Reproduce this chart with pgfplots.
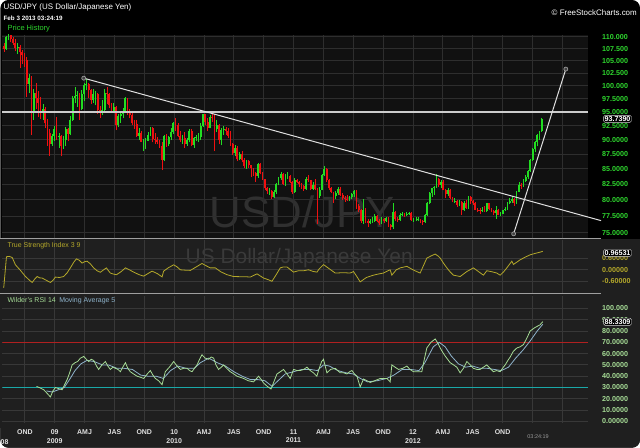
\documentclass[border=0pt]{standalone}
\usepackage{pgfplots}
\pgfplotsset{compat=1.18}
\usepackage{pgfplotstable}
\usepackage{fontspec}
\setmainfont{Liberation Sans}
\definecolor{cgreen}{HTML}{22DD22}
\definecolor{cred}{HTML}{EE1111}
\definecolor{pgreen}{HTML}{2ED62E}
\definecolor{tsicol}{HTML}{B4A82A}
\definecolor{rsicol}{HTML}{A6DC96}
\definecolor{macol}{HTML}{8FB4CC}
\definecolor{gridc}{HTML}{2E2E2E}
\definecolor{gridl}{HTML}{383838}
\definecolor{pbg}{HTML}{111111}
\definecolor{lbg}{HTML}{1F1F1F}
\definecolor{wm}{HTML}{303030}
\definecolor{wm2}{HTML}{3A3A3A}
\definecolor{rline}{HTML}{B02020}
\definecolor{tline}{HTML}{1AA8A8}

\pgfplotstableread{
o c h l
108.0 107.5 108.7 106.9
107.5 109.9 110.1 107.3
109.9 110.4 110.7 109.3
110.4 109.6 110.5 108.9
109.6 108.8 110.0 108.3
108.8 107.6 109.5 107.0
107.6 107.8 108.6 106.4
107.8 106.8 108.2 103.5
106.8 106.1 107.3 104.4
106.1 105.2 106.5 103.8
105.2 100.4 105.8 97.9
100.4 101.6 102.3 98.6
101.6 94.8 101.9 90.9
94.8 98.5 99.3 93.5
98.5 97.6 100.5 95.5
97.6 96.7 99.0 94.1
96.7 95.2 97.8 93.7
95.2 95.5 96.5 93.6
95.5 92.9 95.9 92.1
92.9 91.2 93.7 88.9
91.2 89.2 91.8 87.2
89.2 90.6 91.0 88.9
90.6 91.9 92.5 89.8
91.9 90.5 94.0 89.9
90.5 90.7 91.2 88.5
90.7 88.8 90.9 87.1
88.8 89.9 90.6 88.4
89.9 91.9 92.3 88.9
91.9 91.0 92.0 89.7
91.0 93.5 94.2 90.8
93.5 97.6 98.0 93.3
97.6 98.0 99.7 96.7
98.0 98.1 99.0 96.0
98.1 95.6 98.5 93.5
95.6 98.4 99.2 95.4
98.4 100.2 100.6 97.0
100.2 100.4 101.4 99.1
100.4 99.1 100.5 97.7
99.1 97.3 99.4 96.5
97.3 98.4 99.3 96.7
98.4 98.4 99.0 96.2
98.4 95.3 98.6 94.6
95.3 94.8 96.1 93.9
94.8 95.3 97.3 94.5
95.3 98.6 99.3 95.1
98.6 98.4 99.7 96.5
98.4 96.2 98.6 95.7
96.2 95.2 96.7 94.8
95.2 96.0 96.7 94.9
96.0 92.6 96.1 91.7
92.6 94.2 94.6 92.2
94.2 94.7 95.2 93.0
94.7 95.2 95.8 93.8
95.2 97.6 97.8 94.9
97.6 94.8 97.7 94.5
94.8 94.5 95.5 93.8
94.5 93.0 95.0 92.6
93.0 92.7 93.6 91.9
92.7 90.7 93.5 90.5
90.7 91.2 92.1 89.9
91.2 89.6 91.5 89.5
89.6 89.8 90.1 88.0
89.8 89.8 90.3 88.3
89.8 90.9 91.4 89.7
90.9 92.0 92.3 90.6
92.0 90.1 92.2 89.5
90.1 89.9 91.2 89.3
89.9 89.6 90.5 89.2
89.6 88.9 89.9 88.6
88.9 86.5 89.5 84.8
86.5 90.6 90.8 86.3
90.6 89.2 91.0 88.7
89.2 90.4 90.7 88.9
90.4 91.4 92.1 89.9
91.4 93.0 93.2 91.0
93.0 92.6 93.8 91.6
92.6 90.7 93.0 90.5
90.7 89.9 91.5 89.6
89.9 90.3 90.9 89.3
90.3 89.3 91.3 88.6
89.3 89.9 90.3 88.9
89.9 91.6 91.9 89.5
91.6 89.0 91.9 88.8
89.0 90.2 90.4 88.6
90.2 90.5 90.9 89.8
90.5 90.5 91.1 89.5
90.5 92.5 92.9 90.0
92.5 94.6 94.7 92.3
94.6 93.2 94.7 92.6
93.2 92.1 93.8 91.6
92.1 94.1 94.4 92.0
94.1 94.0 94.9 93.2
94.0 91.8 94.6 88.0
91.8 92.6 93.6 91.4
92.6 89.9 92.8 89.2
89.9 91.7 92.1 89.0
91.7 91.9 92.4 90.9
91.9 91.6 92.2 90.9
91.6 90.7 92.0 90.3
90.7 89.2 91.5 88.9
89.2 87.7 89.4 87.3
87.7 88.6 89.0 87.2
88.6 86.6 88.8 86.3
86.6 87.5 87.8 86.4
87.5 86.4 88.1 86.1
86.4 85.5 86.9 85.1
85.5 86.3 86.5 85.0
86.3 85.6 86.4 85.2
85.6 85.1 85.7 83.6
85.1 84.3 85.2 83.8
84.3 83.8 84.4 82.9
83.8 85.8 86.0 83.5
85.8 84.3 85.9 84.1
84.3 83.3 84.4 83.2
83.3 81.8 83.4 81.6
81.8 81.4 82.0 80.9
81.4 81.4 81.9 80.8
81.4 80.4 81.6 80.2
80.4 81.3 81.6 80.3
81.3 82.5 82.7 80.9
82.5 83.5 83.7 82.3
83.5 84.2 84.4 83.2
84.2 82.5 84.3 82.3
82.5 83.9 84.1 82.2
83.9 83.9 84.4 83.4
83.9 82.9 84.0 82.7
82.9 81.2 83.0 80.9
81.2 83.2 83.5 81.1
83.2 82.8 83.4 82.6
82.8 82.5 83.0 82.0
82.5 82.2 82.7 81.7
82.2 81.7 82.3 81.4
81.7 83.4 83.7 81.6
83.4 83.1 84.0 82.9
83.1 81.7 83.2 81.5
81.7 82.4 82.8 81.6
82.4 81.7 83.3 81.5
81.7 80.6 81.9 76.3
80.6 81.6 82.0 80.3
81.6 84.0 84.2 81.5
84.0 84.9 85.5 83.8
84.9 83.1 85.1 82.9
83.1 81.8 83.3 81.6
81.8 81.2 82.1 81.0
81.2 80.6 81.3 79.6
80.6 81.0 81.4 80.2
81.0 81.7 82.0 80.8
81.7 80.8 82.0 80.6
80.8 80.3 81.0 80.0
80.3 80.2 80.6 79.7
80.2 80.1 80.7 79.8
80.1 80.4 80.6 79.9
80.4 80.9 81.0 80.2
80.9 81.4 81.5 80.5
81.4 79.1 81.5 78.6
79.1 78.5 79.3 78.2
78.5 76.7 78.6 76.5
76.7 78.4 80.2 76.3
78.4 76.8 78.7 76.4
76.8 76.5 77.0 75.9
76.5 76.7 77.1 76.3
76.7 76.8 77.3 76.5
76.8 77.5 77.8 76.6
77.5 76.8 77.6 76.6
76.8 76.4 77.0 76.1
76.4 77.1 77.3 76.3
77.1 76.7 77.2 76.4
76.7 77.2 77.4 76.6
77.2 76.2 77.3 75.9
76.2 75.8 76.3 75.4
75.8 78.2 79.5 75.6
78.2 77.0 78.3 76.8
77.0 76.9 77.3 76.6
76.9 77.7 78.0 76.8
77.7 77.9 78.2 77.5
77.9 77.6 78.0 77.4
77.6 77.8 78.1 77.5
77.8 78.0 78.2 77.7
78.0 76.9 78.1 76.8
76.9 76.9 77.2 76.6
76.9 76.9 77.3 76.7
76.9 77.0 77.3 76.7
77.0 76.7 77.1 76.4
76.7 76.6 76.9 76.2
76.6 77.6 77.8 76.5
77.6 79.5 79.7 77.5
79.5 81.1 81.2 79.4
81.1 81.8 81.9 80.5
81.8 82.0 82.2 80.8
82.0 83.4 84.2 81.9
83.4 82.4 83.5 82.0
82.4 82.9 83.2 81.8
82.9 81.6 83.2 81.5
81.6 80.9 81.7 80.3
80.9 81.5 81.8 80.6
81.5 80.3 81.7 80.1
80.3 79.8 80.4 79.7
79.8 79.9 80.3 79.6
79.9 79.2 80.0 78.9
79.2 79.7 80.0 79.0
79.7 78.4 79.8 77.7
78.4 79.5 79.8 78.3
79.5 78.7 80.0 78.6
78.7 80.4 80.6 78.6
80.4 79.8 80.6 79.3
79.8 79.6 80.0 79.2
79.6 78.5 79.7 78.4
78.5 78.4 78.8 78.1
78.4 78.3 78.7 77.9
78.3 78.4 78.9 78.1
78.4 78.3 79.1 78.1
78.3 79.5 79.6 78.2
79.5 78.6 79.6 78.4
78.6 78.3 78.8 78.1
78.3 78.0 78.5 77.6
78.0 78.4 79.0 77.1
78.4 77.7 78.6 77.6
77.7 77.9 78.2 77.5
77.9 78.4 78.5 77.8
78.4 78.6 78.9 78.3
78.6 79.6 79.7 78.5
79.6 79.8 80.3 79.3
79.8 80.1 80.6 79.6
80.1 79.5 80.3 79.1
79.5 81.3 81.4 79.4
81.3 82.4 82.8 81.2
82.4 82.3 82.6 81.7
82.3 83.0 83.3 82.1
83.0 83.6 84.0 82.8
83.6 84.6 84.8 83.4
84.6 86.5 86.6 84.5
86.5 88.4 88.5 86.3
88.4 89.6 89.7 87.8
89.6 90.8 91.0 88.8
90.8 91.5 91.6 90.0
91.5 93.7 93.8 91.4
}\price

\pgfplotstableread{
t v
2008.573 -0.94
2008.596 0.68
2008.620 0.70
2008.644 0.64
2008.671 0.26
2008.713 -0.03
2008.755 -0.35
2008.790 -0.55
2008.811 -0.66
2008.833 -0.48
2008.853 -0.35
2008.875 -0.42
2008.895 -0.43
2008.930 -0.55
2008.964 -0.66
2008.985 -0.55
2009.006 -0.38
2009.040 -0.40
2009.075 -0.35
2009.105 -0.15
2009.131 0.10
2009.160 0.40
2009.182 0.57
2009.205 0.50
2009.229 0.35
2009.250 0.42
2009.271 0.45
2009.300 0.30
2009.326 0.10
2009.355 -0.05
2009.382 -0.13
2009.410 0.00
2009.433 0.10
2009.450 -0.05
2009.466 -0.17
2009.490 -0.22
2009.516 -0.26
2009.555 -0.10
2009.592 0.10
2009.625 0.00
2009.661 -0.12
2009.705 -0.25
2009.745 -0.33
2009.780 -0.20
2009.815 -0.07
2009.860 -0.20
2009.899 -0.37
2009.912 -0.07
2009.950 0.10
2009.996 0.26
2010.025 0.15
2010.052 0.00
2010.095 -0.02
2010.136 -0.03
2010.185 0.15
2010.233 0.33
2010.265 0.22
2010.303 0.10
2010.345 0.10
2010.390 -0.10
2010.440 -0.25
2010.498 -0.35
2010.560 -0.36
2010.600 -0.36
2010.638 -0.38
2010.694 -0.21
2010.749 -0.43
2010.790 -0.52
2010.819 -0.60
2010.850 -0.30
2010.889 0.10
2010.915 0.15
2010.945 0.15
2010.975 0.00
2011.000 -0.12
2011.040 -0.05
2011.084 -0.05
2011.125 0.00
2011.167 -0.09
2011.196 -0.12
2011.215 0.05
2011.251 0.27
2011.300 0.05
2011.349 -0.17
2011.420 -0.15
2011.474 -0.17
2011.502 -0.09
2011.530 -0.35
2011.558 -0.63
2011.610 -0.40
2011.669 -0.28
2011.710 -0.22
2011.753 -0.17
2011.790 -0.05
2011.809 0.00
2011.823 -0.28
2011.860 0.00
2011.893 0.10
2011.949 0.18
2012.000 0.00
2012.060 -0.17
2012.090 0.25
2012.116 0.61
2012.150 0.72
2012.186 0.82
2012.210 0.72
2012.228 0.61
2012.255 0.35
2012.284 0.10
2012.310 -0.10
2012.339 -0.28
2012.395 -0.35
2012.451 -0.09
2012.506 0.10
2012.550 -0.10
2012.590 -0.28
2012.618 -0.05
2012.660 -0.10
2012.702 -0.17
2012.730 -0.28
2012.760 -0.10
2012.786 0.10
2012.810 0.30
2012.828 0.45
2012.841 0.28
2012.870 0.40
2012.897 0.52
2012.940 0.66
2012.981 0.78
2013.020 0.85
2013.064 0.92
2013.087 0.965
}\tsi

\pgfplotstableread{
t v
2008.847 31
2008.870 30
2008.908 28
2008.935 25
2008.964 21.6
2008.985 27
2009.006 30
2009.035 29
2009.062 28
2009.085 33
2009.104 37
2009.125 43
2009.146 50
2009.170 52
2009.192 53
2009.215 56
2009.243 57.5
2009.265 55
2009.285 53
2009.305 55
2009.326 54
2009.350 49
2009.368 46
2009.395 50
2009.424 53
2009.445 49
2009.466 46
2009.488 48
2009.508 47
2009.530 46
2009.550 44
2009.570 48
2009.592 52
2009.612 47
2009.633 44
2009.660 42
2009.690 40
2009.720 39
2009.745 38
2009.775 42
2009.801 45
2009.822 41
2009.843 38
2009.870 36
2009.899 32.5
2009.926 44
2009.960 48
2009.996 53
2010.025 49
2010.052 46
2010.080 47
2010.108 47
2010.130 45
2010.150 44
2010.170 47
2010.192 50
2010.213 55
2010.233 59
2010.260 56
2010.289 55
2010.310 57
2010.331 56
2010.350 50
2010.372 46
2010.395 48
2010.414 50
2010.440 47
2010.470 44
2010.500 42
2010.526 40
2010.555 39
2010.582 38
2010.620 36
2010.665 35
2010.690 38
2010.707 40
2010.730 37
2010.749 34
2010.780 31
2010.811 28.7
2010.835 35
2010.861 42
2010.890 44
2010.916 46
2010.945 42
2010.972 38
2011.000 46
2011.030 45
2011.056 45
2011.085 46
2011.112 48
2011.140 45
2011.167 43
2011.195 40
2011.215 47
2011.235 53
2011.251 55
2011.279 43
2011.310 46
2011.349 47
2011.370 45
2011.391 43
2011.420 43
2011.447 42
2011.470 44
2011.489 45
2011.510 42
2011.531 40
2011.558 30.5
2011.586 37.5
2011.615 36
2011.642 34.5
2011.680 36
2011.726 38
2011.755 38
2011.782 38
2011.809 35
2011.823 50
2011.850 48
2011.879 46
2011.915 47
2011.949 49
2011.975 46
2012.004 44
2012.040 44
2012.074 44
2012.095 55
2012.116 65
2012.150 70
2012.186 73
2012.210 69
2012.228 65
2012.250 61
2012.269 58
2012.290 55
2012.311 52
2012.340 50
2012.367 48
2012.395 43
2012.423 47
2012.451 53
2012.480 50
2012.506 47
2012.535 46
2012.562 46
2012.590 48
2012.618 50
2012.645 47
2012.674 44
2012.700 45
2012.730 44
2012.750 47
2012.772 50
2012.795 54
2012.814 57
2012.840 62
2012.870 65
2012.897 66
2012.925 68
2012.955 74
2012.981 80
2013.020 83
2013.064 85.5
2013.087 88.3
}\rsi

\pgfplotstableread{
t v
2008.930 27
2008.980 26
2009.030 28
2009.080 30
2009.130 38
2009.170 45
2009.220 51
2009.270 54
2009.330 53
2009.400 50
2009.450 50
2009.520 47
2009.580 47
2009.650 46
2009.720 41
2009.780 40
2009.850 40
2009.910 38
2009.970 45
2010.030 49
2010.100 47
2010.170 47
2010.220 52
2010.290 56
2010.360 52
2010.430 49
2010.500 44
2010.570 40
2010.640 37
2010.700 37
2010.760 36
2010.820 31
2010.870 36
2010.930 42
2011.000 44
2011.070 46
2011.140 46
2011.200 45
2011.250 50
2011.300 49
2011.370 45
2011.440 43
2011.500 42
2011.560 38
2011.620 35
2011.700 36
2011.780 38
2011.840 41
2011.910 46
2011.980 46
2012.050 45
2012.100 52
2012.170 66
2012.220 70
2012.270 66
2012.320 58
2012.380 51
2012.440 48
2012.500 49
2012.560 47
2012.620 47
2012.680 46
2012.740 45
2012.800 48
2012.860 56
2012.920 63
2012.980 71
2013.040 80
2013.087 86
}\rsima

\pgfplotsset{
  panel/.style={
    scale only axis, width=586bp,
    xmin=2008.5623, xmax=2013.4661,
    xtick={2008.75,2009,2009.25,2009.5,2009.75,2010,2010.25,2010.5,2010.75,2011,2011.25,2011.5,2011.75,2012,2012.25,2012.5,2012.75,2013,2013.25},
    xmajorgrids, ymajorgrids,
    grid style={draw=gridc, line width=0.9bp},
    axis line style={draw=none},
    major tick length=0pt, minor tick length=0pt,
    xticklabels={},
    yticklabel pos=right,
    yticklabel style={anchor=west, inner sep=0pt, xshift=14bp, font=\fontsize{7.2}{8}\selectfont\bfseries},
  },
}

\begin{document}
\begin{tikzpicture}[x=1bp,y=1bp]
\fill[white] (0,0) rectangle (640,448);
\fill[black, rounded corners=8bp] (0,0) rectangle (640,448);
\fill[lbg, rounded corners=8bp] (0,0) rectangle (640,208.5);
\fill[lbg] (0,20) rectangle (640,208.5);
\fill[pbg] (2,209.5) rectangle (588,413);
\draw[gray!75, line width=0.9bp] (0,209) -- (601,209);
\draw[gray!75, line width=0.9bp] (0,154) -- (601,154);
% watermarks
\node[text=wm, font=\fontsize{44}{44}\selectfont] at (302,236) {USD/JPY};
\node[text=wm2, font=\fontsize{21}{21}\selectfont] at (299,190) {US Dollar/Japanese Yen};

% ---------- price panel ----------
\begin{axis}[panel, at={(2bp,209.5bp)}, anchor=south west, height=203.5bp,
  ymode=log, ymin=74.21, ymax=110.43, yminorticks=false, clip=false,
  ytick={75,77.5,80,82.5,85,87.5,90,92.5,95,97.5,100,102.5,105,107.5,110},
  yticklabels={75.0000,77.5000,80.0000,82.5000,85.0000,87.5000,90.0000,92.5000,95.0000,97.5000,100.000,102.500,105.000,107.500,110.000},
  yticklabel style={text=pgreen},
]
\addplot[forget plot, draw=none, mark=none, error bars/.cd, y dir=plus, y explicit, error mark=none,
  error bar style={draw=cgreen, line width=0.7bp}]
  table[x expr=2008.575+\coordindex/52.18, y expr={\thisrow{c}>=\thisrow{o} ? \thisrow{l} : nan}, y error plus expr={\thisrow{h}-\thisrow{l}}] {\price};
\addplot[forget plot, draw=none, mark=none, error bars/.cd, y dir=plus, y explicit, error mark=none,
  error bar style={draw=cgreen, line width=1.8bp}]
  table[x expr=2008.575+\coordindex/52.18, y expr={\thisrow{c}>=\thisrow{o} ? \thisrow{o} : nan}, y error plus expr={\thisrow{c}-\thisrow{o}}] {\price};
\addplot[forget plot, draw=none, mark=none, error bars/.cd, y dir=plus, y explicit, error mark=none,
  error bar style={draw=cred, line width=0.7bp}]
  table[x expr=2008.575+\coordindex/52.18, y expr={\thisrow{c}<\thisrow{o} ? \thisrow{l} : nan}, y error plus expr={\thisrow{h}-\thisrow{l}}] {\price};
\addplot[forget plot, draw=none, mark=none, error bars/.cd, y dir=plus, y explicit, error mark=none,
  error bar style={draw=cred, line width=1.8bp}]
  table[x expr=2008.575+\coordindex/52.18, y expr={\thisrow{c}<\thisrow{o} ? \thisrow{c} : nan}, y error plus expr={\thisrow{o}-\thisrow{c}}] {\price};
% lines
\addplot[color=white!80!black, line width=2bp] coordinates {(2008.5623,95) (2013.4661,95)};
\addplot[color=white!88!black, line width=1bp] coordinates {(2009.243,101.48) (2013.575,76.83)};
\addplot[color=white!88!black, line width=1bp] coordinates {(2012.843,74.87) (2013.28,103.3)};
\addplot[only marks, mark=*, mark size=2bp, mark options={draw=gray!80, fill=black!75, line width=0.7bp}]
  coordinates {(2009.243,101.48) (2012.843,74.87) (2013.28,103.3)};
\end{axis}

% ---------- TSI panel ----------
\begin{axis}[panel, at={(2bp,155bp)}, anchor=south west, height=53bp,
  ymin=-1.198, ymax=1.5625,
  ytick={-0.6,0,0.6}, yticklabels={-0.60000,0.00000,0.60000},
  yticklabel style={text=tsicol}, grid style={draw=gridl},
]
\addplot[color=tsicol, line width=0.8bp, mark=none] table[x=t, y=v] {\tsi};
\end{axis}

% ---------- RSI panel ----------
\begin{axis}[panel, at={(2bp,25bp)}, anchor=south west, height=127bp,
  ymin=-1.15, ymax=111.2, grid style={draw=gridl},
  ytick={0,10,20,30,40,50,60,70,80,90,100},
  yticklabels={0.00000,10.0000,20.0000,30.0000,40.0000,50.0000,60.0000,70.0000,80.0000,90.0000,100.000},
  yticklabel style={text=rsicol},
  xticklabels={OND,{09\\2009},AMJ,JAS,OND,{10\\2010},AMJ,JAS,OND,{11\\2011},AMJ,JAS,OND,{12\\2012},AMJ,JAS,OND,{},{}},
  xticklabel style={align=center, text=white!88!black, font=\fontsize{7}{9}\selectfont\bfseries, yshift=-3bp},
]
\addplot[color=rline, line width=1bp, mark=none] coordinates {(2008.5623,70) (2013.4661,70)};
\addplot[color=tline, line width=1.6bp, mark=none] coordinates {(2008.5623,30) (2013.4661,30)};
\addplot[color=macol, line width=0.8bp, mark=none] table[x=t, y=v] {\rsima};
\addplot[color=rsicol, line width=0.8bp, mark=none] table[x=t, y=v] {\rsi};
\end{axis}

% ---------- texts ----------
\node[anchor=west, inner sep=0pt, text=white, font=\fontsize{8}{9}\selectfont] at (3,441) {USD/JPY (US Dollar/Japanese Yen)};
\node[anchor=west, inner sep=0pt, text=white, font=\fontsize{6.3}{7}\selectfont\bfseries] at (3,430) {Feb 3 2013 03:24:19};
\node[anchor=west, inner sep=0pt, text=pgreen, font=\fontsize{7.5}{8}\selectfont] at (7,419) {Price History};
\node[anchor=east, inner sep=0pt, text=white, font=\fontsize{8}{9}\selectfont] at (637,435) {\textcopyright\ FreeStockCharts.com};
\node[anchor=west, inner sep=0pt, text=tsicol, font=\fontsize{7}{8}\selectfont] at (7,202) {True Strength Index 3 9};
\node[anchor=west, inner sep=0pt, font=\fontsize{7}{8}\selectfont] at (7,147) {\textcolor{rsicol}{Wilder's RSI 14}\enspace\textcolor{macol}{Moving Average 5}};
\node[draw=white!85!black, fill=black, text=white, rounded corners=1.5bp, inner sep=1pt, font=\fontsize{7.2}{8}\selectfont\bfseries] at (617.5,329) {93.7390};
\node[draw=white!85!black, fill=black, text=white, rounded corners=1.5bp, inner sep=1pt, font=\fontsize{7.2}{8}\selectfont\bfseries] at (617.5,195) {0.96531};
\node[draw=white!85!black, fill=black, text=white, rounded corners=1.5bp, inner sep=1pt, font=\fontsize{7.2}{8}\selectfont\bfseries] at (617.5,126) {88.3309};
\node[anchor=west, inner sep=0pt, text=white!88!black, font=\fontsize{7}{8}\selectfont\bfseries] at (0,6) {08};
\node[inner sep=0pt, text=gray!80, font=\fontsize{5.5}{6}\selectfont] at (538,11) {03:24:19};
\end{tikzpicture}
\end{document}
